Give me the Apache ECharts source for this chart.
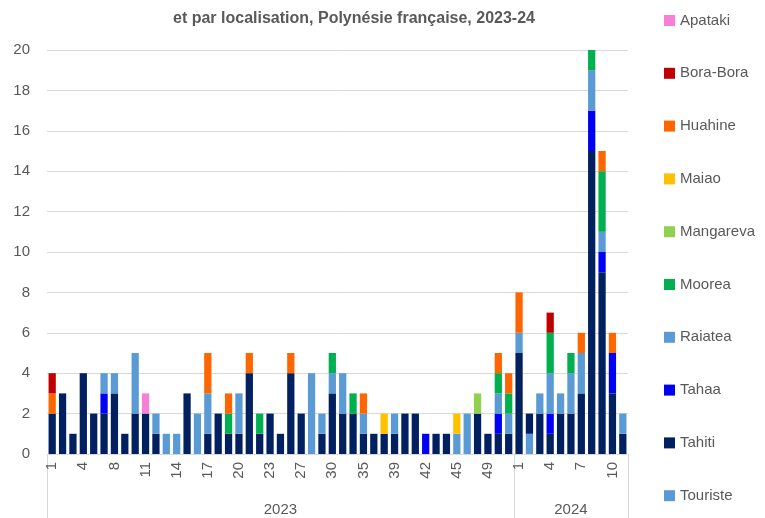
<!DOCTYPE html>
<html><head><meta charset="utf-8">
<script src="https://cdn.jsdelivr.net/npm/echarts@6/dist/echarts.min.js"></script>
<style>html,body{margin:0;padding:0;background:#fff}#c{width:765px;height:518px}</style>
</head><body><div id="c"></div>
<script>
// Week categories (weeks with at least one case)
const weeks2023 = [1,2,3,4,6,7,8,9,10,11,12,13,14,15,16,17,18,19,20,21,22,23,25,26,27,28,29,30,31,33,35,36,38,39,40,41,42,43,44,45,46,48,49,50,52];
const weeks2024 = [1,2,3,4,5,6,7,8,9,10,11];
const years = ['2023','2024'];

// Series values (one per week category, 2023 then 2024)
const touriste = [0,0,0,0,0,0,0,0,0,0,0,1,1,0,2,0,0,0,0,0,0,0,0,0,0,4,0,0,0,0,0,0,0,0,0,0,0,0,0,1,2,0,0,0,0, 0,1,0,0,0,0,0,0,0,0,0];
const tahiti   = [2,3,1,4,2,2,3,1,2,2,1,0,0,3,0,1,2,1,1,4,1,2,1,4,2,0,1,3,2,2,1,1,1,1,2,2,0,1,1,0,0,2,1,1,1, 5,1,2,1,2,2,3,15,9,3,1];
const tahaa    = [0,0,0,0,0,1,0,0,0,0,0,0,0,0,0,0,0,0,0,0,0,0,0,0,0,0,0,0,0,0,0,0,0,0,0,0,1,0,0,0,0,0,0,1,0, 0,0,0,1,0,0,0,2,1,2,0];
const raiatea  = [0,0,0,0,0,1,1,0,3,0,1,0,0,0,0,2,0,0,2,0,0,0,0,0,0,0,1,1,2,0,1,0,0,1,0,0,0,0,0,0,0,0,0,1,1, 1,0,1,2,1,2,2,2,1,0,1];
const moorea   = [0,0,0,0,0,0,0,0,0,0,0,0,0,0,0,0,0,1,0,0,1,0,0,0,0,0,0,1,0,1,0,0,0,0,0,0,0,0,0,0,0,0,0,1,1, 0,0,0,2,0,1,0,1,3,0,0];
const mangareva= [0,0,0,0,0,0,0,0,0,0,0,0,0,0,0,0,0,0,0,0,0,0,0,0,0,0,0,0,0,0,0,0,0,0,0,0,0,0,0,0,0,1,0,0,0, 0,0,0,0,0,0,0,0,0,0,0];
const maiao    = [0,0,0,0,0,0,0,0,0,0,0,0,0,0,0,0,0,0,0,0,0,0,0,0,0,0,0,0,0,0,0,0,1,0,0,0,0,0,0,1,0,0,0,0,0, 0,0,0,0,0,0,0,0,0,0,0];
const huahine  = [1,0,0,0,0,0,0,0,0,0,0,0,0,0,0,2,0,1,0,1,0,0,0,1,0,0,0,0,0,0,1,0,0,0,0,0,0,0,0,0,0,0,0,1,1, 2,0,0,0,0,0,1,0,1,1,0];
const boraBora = [1,0,0,0,0,0,0,0,0,0,0,0,0,0,0,0,0,0,0,0,0,0,0,0,0,0,0,0,0,0,0,0,0,0,0,0,0,0,0,0,0,0,0,0,0, 0,0,0,1,0,0,0,0,0,0,0];
const apataki  = [0,0,0,0,0,0,0,0,0,1,0,0,0,0,0,0,0,0,0,0,0,0,0,0,0,0,0,0,0,0,0,0,0,0,0,0,0,0,0,0,0,0,0,0,0, 0,0,0,0,0,0,0,0,0,0,0];

const yTicks = {min:0, max:20, interval:2};

const cats = weeks2023.map(w => '2023-' + w).concat(weeks2024.map(w => '2024-' + w));
const n2023 = weeks2023.length, nAll = cats.length;

const stackOrder = [
  ['Touriste', touriste, '#5B9BD5'],
  ['Tahiti', tahiti, '#002060'],
  ['Tahaa', tahaa, '#0000F5'],
  ['Raiatea', raiatea, '#5B9BD5'],
  ['Moorea', moorea, '#00B050'],
  ['Mangareva', mangareva, '#92D050'],
  ['Maiao', maiao, '#FFC000'],
  ['Huahine', huahine, '#FF6600'],
  ['Bora-Bora', boraBora, '#C00000'],
  ['Apataki', apataki, '#F77FD8']
];
const legendOrder = ['Apataki','Bora-Bora','Huahine','Maiao','Mangareva','Moorea','Raiatea','Tahaa','Tahiti','Touriste'];

const txt = '#595959';
const font = 'Liberation Sans';
const chart = echarts.init(document.getElementById('c'));
chart.setOption({
  animation:false,
  textStyle:{fontFamily:font},
  title:{text:'et par localisation, Polynésie française, 2023-24', left:349, textAlign:'center', top:6,
    textStyle:{fontFamily:font, fontSize:16, fontWeight:'bold', color:txt}},
  legend:{orient:'vertical', left:659, top:8, itemWidth:11, itemHeight:11, itemGap:37.8,
    data:legendOrder, textStyle:{fontFamily:font, fontSize:15, color:txt}, icon:'rect'},
  grid:{left:47, right:137, top:50, bottom:64, containLabel:false},
  xAxis:[{
    type:'category', data:cats, position:'bottom',
    axisLine:{lineStyle:{color:'#d9d9d9'}},
    axisTick:{show:false},
    axisLabel:{interval:2, rotate:90, margin:8, fontSize:15, color:txt, fontFamily:font,
      formatter:v => v.split('-')[1]}
  },{
    type:'value', min:0, max:nAll, position:'bottom',
    axisLine:{show:false}, splitLine:{show:false},
    axisTick:{show:true, length:64, customValues:[0, n2023, nAll], lineStyle:{color:'#d9d9d9'}},
    axisLabel:{customValues:[n2023/2, n2023 + (nAll-n2023)/2], margin:48, fontSize:15, color:txt, fontFamily:font,
      formatter:v => v < n2023 ? years[0] : years[1]}
  }],
  yAxis:{type:'value', min:yTicks.min, max:yTicks.max, interval:yTicks.interval,
    axisLine:{show:false}, axisTick:{show:false},
    splitLine:{lineStyle:{color:'#d9d9d9'}},
    axisLabel:{fontSize:15, color:txt, fontFamily:font, margin:17}},
  series: stackOrder.map(([name, data, color]) => ({
    name, type:'bar', stack:'all', xAxisIndex:0, data,
    barCategoryGap:'30%', itemStyle:{color}
  }))
});
</script></body></html>
